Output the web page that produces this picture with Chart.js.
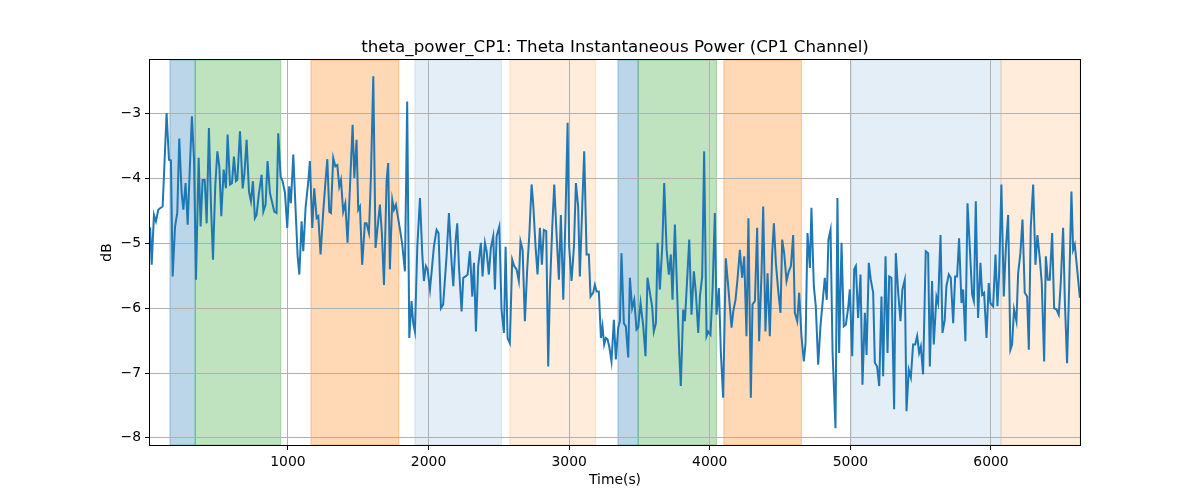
<!DOCTYPE html>
<html>
<head>
<meta charset="utf-8">
<script src="https://cdn.jsdelivr.net/npm/chart.js@4/dist/chart.umd.min.js"></script>
<style>
  html, body { margin: 0; padding: 0; background: #fff; }
  #wrap { width: 1200px; height: 500px; }
</style>
</head>
<body>
<div id="wrap"><canvas id="powerChart" width="1200" height="500"></canvas></div>
<script>
// time stamps (s) and theta power (dB)
const times = [
  20, 31, 47, 61, 78, 95, 109, 123, 137, 154, 168, 180, 197, 213, 227, 244, 256, 272, 287, 302, 317, 332, 346, 365, 379, 393, 408, 422, 438, 453, 467, 483, 498, 512, 526, 543, 559, 571, 588, 602, 616, 630, 640, 659, 678, 690, 706, 723, 737, 751, 765,
  777, 794, 813, 825, 841, 855, 872, 889, 903, 919, 931, 948, 962, 979, 995, 1009, 1021, 1038, 1055, 1069, 1081, 1097, 1109, 1126, 1145, 1156, 1173, 1187, 1204, 1216, 1232, 1251, 1268, 1280, 1294, 1306, 1322, 1337, 1351, 1365, 1377, 1393, 1408, 1424,
  1460, 1472, 1488, 1500, 1512, 1528, 1547, 1559, 1576, 1590, 1607, 1623, 1638, 1654, 1668, 1683, 1702, 1713, 1725, 1742, 1754, 1768, 1785, 1801, 1813, 1832, 1848, 1863, 1879, 1891, 1903, 1920, 1939, 1955, 1967, 1981, 1993, 2010, 2021, 2038, 2057, 2071, 2088, 2104, 2128, 2145,
  2164, 2176, 2192, 2204, 2216, 2235, 2247, 2263, 2278, 2294, 2311, 2323, 2337, 2353, 2372, 2384, 2401, 2413, 2429, 2443, 2460, 2472, 2484, 2503, 2519, 2536, 2548, 2562, 2578, 2595, 2609, 2626, 2642, 2654, 2669, 2685, 2702, 2716, 2733, 2744, 2761, 2775, 2792, 2806, 2820, 2837, 2851, 2863, 2880, 2894,
  2910, 2927, 2941, 2958, 2974, 2989, 3000, 3017, 3034, 3048, 3064, 3076, 3093, 3107, 3124, 3140, 3152, 3171, 3183, 3195, 3211, 3226, 3237, 3249, 3261, 3273, 3285, 3301, 3318, 3332, 3349, 3361, 3372, 3389, 3403, 3420, 3432, 3448, 3463, 3479, 3491, 3508, 3527, 3543, 3557, 3574, 3590, 3602,
  3617, 3629, 3645, 3662, 3676, 3693, 3709, 3723, 3735, 3752, 3768, 3783, 3794, 3811, 3823, 3839, 3854, 3870, 3887, 3901, 3918, 3930, 3946, 3960, 3977, 3989, 4005, 4020, 4036, 4048, 4065, 4079, 4095, 4114, 4131, 4155, 4167, 4183, 4197, 4214, 4230, 4245, 4261, 4275, 4292, 4304, 4321,
  4337, 4351, 4368, 4380, 4396, 4411, 4427, 4444, 4456, 4470, 4486, 4503, 4515, 4529, 4546, 4562, 4577, 4593, 4605, 4622, 4636, 4652, 4669, 4681, 4695, 4712, 4723, 4740, 4754, 4771, 4787, 4802, 4818, 4832, 4844, 4859, 4873, 4894, 4908, 4920, 4937, 4953, 4968, 4984, 4996, 5013, 5027,
  5039, 5055, 5072, 5086, 5103, 5115, 5131, 5145, 5162, 5174, 5190, 5205, 5221, 5233, 5250, 5264, 5276, 5292, 5311, 5323, 5340, 5356, 5370, 5387, 5399, 5415, 5430, 5446, 5461, 5475, 5489, 5501, 5517, 5536, 5553, 5565, 5581, 5593, 5612, 5624, 5641, 5655, 5671, 5683, 5700, 5714, 5731,
  5745, 5759, 5773, 5790, 5802, 5818, 5833, 5849, 5866, 5878, 5892, 5908, 5925, 5937, 5951, 5968, 5984, 5996, 6015, 6032, 6046, 6058, 6074, 6091, 6105, 6122, 6138, 6150, 6164, 6181, 6193, 6209, 6224, 6240, 6257, 6269, 6283, 6300, 6316, 6330, 6347, 6361, 6378, 6390, 6404, 6418, 6435, 6449,
  6466, 6482, 6496, 6513, 6525, 6541, 6556, 6572, 6584, 6596, 6613, 6632
];
const thetaPower = [
  -4.75, -5.33, -4.56, -4.66, -4.48, -4.45, -4.43, -3.71, -2.99, -3.71, -3.72, -5.51, -4.74, -4.53, -3.38, -4.22, -4.48, -4.07, -4.71, -3.85, -3.04, -3.71, -5.56, -3.68, -4.74, -4.02, -4.02, -4.69, -3.22, -4.43, -5.25, -4.12, -3.58, -3.81, -4.58, -3.86, -4.15, -3.32, -4.09, -4.07, -3.66, -4.04, -4.02, -3.27, -4.15, -3.94, -3.40, -4.20, -4.35, -4.04, -4.61,
  -4.56, -4.22, -3.94, -4.51, -4.40, -3.73, -4.22, -4.38, -4.51, -4.53, -3.30, -3.97, -4.04, -4.22, -4.76, -4.12, -4.38, -3.63, -4.51, -5.20, -5.48, -4.66, -5.12, -4.43, -4.04, -3.73, -4.76, -4.15, -4.61, -4.58, -5.17, -4.51, -4.02, -3.70, -4.51, -4.53, -3.68, -3.81, -3.79, -4.12, -4.02, -4.51, -4.38, -4.99,
  -3.17, -3.99, -3.40, -4.48, -4.43, -5.33, -4.69, -4.69, -4.84, -3.97, -2.42, -5.07, -4.74, -4.40, -4.84, -5.64, -4.02, -3.76, -5.40, -4.33, -4.48, -4.40, -4.63, -4.84, -5.02, -5.43, -2.81, -6.46, -5.89, -6.23, -6.36, -5.05, -4.30, -5.15, -5.58, -5.35, -5.40, -5.71, -5.46, -5.05, -4.79, -4.84, -6.00, -5.94, -5.20, -4.53,
  -5.30, -5.66, -4.97, -4.69, -5.35, -6.05, -5.53, -5.51, -5.48, -5.12, -5.82, -5.30, -6.36, -5.35, -4.99, -5.51, -4.99, -5.12, -5.48, -5.07, -4.89, -5.71, -4.89, -4.74, -6.02, -6.38, -5.05, -6.46, -6.54, -5.25, -5.35, -5.40, -5.58, -4.97, -5.10, -6.20, -5.38, -4.89, -4.09, -4.38, -5.05, -5.48, -4.76, -5.33, -4.79, -4.81, -6.90, -5.71, -4.74, -4.09,
  -4.84, -5.56, -4.56, -5.87, -4.58, -3.14, -5.05, -5.58, -5.05, -4.07, -4.43, -5.51, -4.43, -3.58, -5.17, -5.17, -5.82, -5.76, -5.64, -5.74, -5.74, -6.46, -6.28, -6.56, -6.46, -6.48, -6.59, -6.82, -6.18, -6.79, -6.30, -6.20, -5.15, -6.23, -6.28, -6.76, -5.53, -6.00, -5.87, -6.33, -6.30, -5.92, -6.28, -6.74, -5.53, -5.76, -5.97, -6.36,
  -6.23, -4.99, -5.71, -5.05, -4.07, -5.10, -5.48, -5.17, -5.87, -4.71, -5.76, -6.69, -7.20, -6.02, -6.20, -5.56, -4.94, -6.10, -5.43, -5.76, -6.38, -5.82, -5.51, -3.58, -6.43, -6.36, -6.41, -5.71, -4.53, -6.10, -5.69, -6.69, -7.38, -5.23, -5.66, -6.30, -6.05, -5.87, -5.56, -5.10, -5.53, -5.20, -6.43, -4.61, -7.38, -5.94, -5.89,
  -4.76, -6.51, -5.46, -4.43, -6.36, -5.46, -6.43, -5.15, -4.69, -5.30, -5.71, -6.07, -4.94, -5.15, -5.58, -5.43, -5.35, -4.87, -6.07, -6.20, -5.76, -6.43, -6.82, -6.54, -4.84, -5.38, -4.45, -5.66, -5.97, -6.87, -6.28, -5.92, -5.53, -5.87, -4.94, -4.79, -6.66, -7.85, -4.30, -6.69, -4.99, -6.28, -6.25, -6.00, -5.71, -6.74, -5.40,
  -5.35, -6.15, -5.48, -7.18, -6.07, -6.72, -5.30, -5.56, -5.76, -6.84, -6.90, -7.20, -5.82, -7.05, -5.20, -6.69, -5.51, -5.53, -7.56, -5.15, -5.76, -6.20, -5.71, -5.56, -7.59, -6.95, -7.07, -6.56, -6.56, -6.43, -6.69, -6.59, -7.02, -5.12, -5.15, -6.90, -5.58, -6.56, -5.82, -5.92, -4.87, -6.38, -6.18, -5.66, -5.48, -5.53, -6.23,
  -5.51, -5.51, -4.92, -5.92, -5.71, -6.51, -4.38, -5.05, -5.79, -5.89, -4.35, -6.15, -5.30, -5.79, -5.76, -6.46, -5.61, -5.92, -5.97, -5.17, -5.97, -5.46, -4.09, -5.82, -5.10, -4.56, -6.64, -6.56, -6.02, -6.20, -5.46, -5.15, -4.63, -5.76, -5.82, -6.64, -4.74, -4.09, -5.33, -4.87, -5.23, -5.61, -6.82, -5.20, -5.56, -5.56, -4.84, -6.00,
  -6.02, -6.10, -5.61, -4.76, -5.87, -6.85, -5.66, -4.20, -5.10, -5.02, -5.40, -5.84
];

// shaded stage intervals (start, end, colour)
const spanStart = [161, 341, 1164, 1903, 2578, 3347, 3491, 4100, 5008, 6072];
const spanEnd   = [341, 948, 1789, 2519, 3188, 3491, 4048, 4652, 6070, 6633];
const spanColor = [
  'rgba(31,119,180,0.3)', 'rgba(44,160,44,0.3)', 'rgba(255,127,14,0.3)',
  'rgba(31,119,180,0.12)', 'rgba(255,127,14,0.15)',
  'rgba(31,119,180,0.3)', 'rgba(44,160,44,0.3)', 'rgba(255,127,14,0.3)',
  'rgba(31,119,180,0.12)', 'rgba(255,127,14,0.15)'
];

const xTicks = [1000, 2000, 3000, 4000, 5000, 6000];
const yTicks = [-8, -7, -6, -5, -4, -3];

const FONT = '"DejaVu Sans", Verdana, sans-serif';

const spansPlugin = {
    id: 'spans',
    beforeDraw(chart) {
        const ctx = chart.ctx;
        const area = chart.chartArea;
        const xs = chart.scales.x;
        ctx.save();
        ctx.fillStyle = '#fff';
        ctx.fillRect(0, 0, chart.width, chart.height);
        ctx.beginPath();
        ctx.rect(area.left, area.top, area.right - area.left, area.bottom - area.top);
        ctx.clip();
        for (let i = 0; i < spanStart.length; i++) {
            const x1 = xs.getPixelForValue(spanStart[i]);
            const x2 = xs.getPixelForValue(spanEnd[i]);
            ctx.fillStyle = spanColor[i];
            ctx.fillRect(x1, area.top, x2 - x1, area.bottom - area.top);
            ctx.strokeStyle = spanColor[i];
            ctx.lineWidth = 1.3;
            ctx.strokeRect(x1, area.top, x2 - x1, area.bottom - area.top);
        }
        ctx.restore();
    }
};

const framePlugin = {
    id: 'frame',
    afterDatasetsDraw(chart) {
        const ctx = chart.ctx;
        const a = chart.chartArea;
        ctx.save();
        ctx.strokeStyle = '#000';
        ctx.lineWidth = 1;
        ctx.strokeRect(Math.round(a.left) - 0.5, Math.round(a.top) - 0.5,
            Math.round(a.right - a.left) + 1, Math.round(a.bottom - a.top) + 1);

        ctx.fillStyle = '#000';
        ctx.textAlign = 'center';
        ctx.font = '16.7px ' + FONT;
        ctx.textBaseline = 'alphabetic';
        ctx.fillText('theta_power_CP1: Theta Instantaneous Power (CP1 Channel)', (a.left + a.right) / 2, 52);

        ctx.font = '13.9px ' + FONT;
        ctx.textBaseline = 'top';
        ctx.fillText('Time(s)', (a.left + a.right) / 2, 473);

        ctx.translate(107, (a.top + a.bottom) / 2);
        ctx.rotate(-Math.PI / 2);
        ctx.textBaseline = 'middle';
        ctx.fillText('dB', 0, 0);
        ctx.restore();
    }
};

const ctx = document.getElementById('powerChart').getContext('2d');
const powerChart = new Chart(ctx, {
    type: 'line',
    data: {
        datasets: [{
            label: 'theta power',
            data: times.map((t, i) => ({ x: t, y: thetaPower[i] })),
            borderColor: '#1f77b4',
            borderWidth: 2,
            pointRadius: 0,
            tension: 0,
            fill: false
        }]
    },
    options: {
        responsive: false,
        animation: false,
        devicePixelRatio: 1,
        layout: { padding: { top: 60, right: 120, left: 0, bottom: 0 } },
        plugins: {
            legend: { display: false },
            title: { display: false },
            tooltip: { enabled: false }
        },
        scales: {
            x: {
                type: 'linear',
                min: 19,
                max: 6633,
                afterBuildTicks: s => { s.ticks = xTicks.map(v => ({ value: v })); },
                afterFit: s => { s.height = 55; },
                border: { display: false },
                grid: { color: '#b0b0b0', lineWidth: 1, tickColor: '#000', tickLength: 5, drawTicks: true },
                ticks: {
                    color: '#000', padding: 4, maxRotation: 0, autoSkip: false,
                    font: { family: FONT, size: 13.9 },
                    callback: v => String(v)
                }
            },
            y: {
                type: 'linear',
                min: -8.11,
                max: -2.17,
                afterBuildTicks: s => { s.ticks = yTicks.map(v => ({ value: v })); },
                afterFit: s => { s.width = 150; },
                border: { display: false },
                grid: { color: '#b0b0b0', lineWidth: 1, tickColor: '#000', tickLength: 5, drawTicks: true },
                ticks: {
                    color: '#000', padding: 4, autoSkip: false,
                    font: { family: FONT, size: 13.9 },
                    callback: v => String(v).replace('-', '\u2212')
                }
            }
        }
    },
    plugins: [spansPlugin, framePlugin]
});
</script>
</body>
</html>
